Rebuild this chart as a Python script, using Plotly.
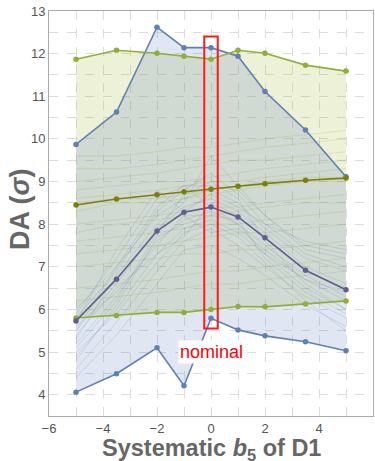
import plotly.graph_objects as go

x = [-5, -3.5, -2, -1, 0, 1, 2, 3.5, 5]

blue_max = [9.87, 10.63, 12.62, 12.14, 12.14, 11.94, 11.11, 10.21, 9.11]
blue_mean = [5.73, 6.71, 7.84, 8.28, 8.40, 8.17, 7.68, 6.92, 6.46]
blue_min = [4.06, 4.49, 5.10, 4.21, 5.79, 5.52, 5.38, 5.24, 5.03]

green_max = [11.87, 12.08, 12.01, 11.94, 11.87, 12.08, 12.01, 11.73, 11.59]
green_mean = [8.45, 8.59, 8.69, 8.76, 8.82, 8.89, 8.95, 9.03, 9.08]
green_min = [5.80, 5.86, 5.93, 5.93, 6.00, 6.07, 6.06, 6.13, 6.20]

blue_samples = [
    [5.2, 6.3, 7.6, 8.1, 8.3, 8.0, 7.5, 6.8, 6.3],
    [5.5, 6.6, 7.9, 8.4, 8.6, 8.3, 7.8, 7.0, 6.6],
    [6.0, 7.0, 8.2, 8.6, 8.8, 8.5, 7.9, 7.2, 6.9],
    [4.9, 6.0, 7.3, 7.9, 8.1, 7.8, 7.3, 6.5, 6.0],
    [5.8, 6.9, 8.3, 8.8, 9.2, 8.7, 8.0, 7.3, 7.0],
    [4.6, 5.7, 6.9, 7.6, 7.9, 7.5, 7.0, 6.3, 5.8],
    [5.3, 6.8, 8.0, 8.5, 9.6, 8.9, 8.2, 7.4, 7.2],
    [5.6, 6.4, 7.5, 8.2, 7.8, 7.9, 7.4, 6.7, 6.2],
    [4.4, 5.4, 6.6, 7.4, 7.5, 7.2, 6.8, 6.1, 5.6],
    [5.9, 7.2, 8.6, 8.9, 8.9, 8.8, 8.2, 7.5, 7.3],
    [5.1, 6.2, 7.8, 8.7, 9.0, 8.6, 7.6, 6.6, 6.0],
    [5.4, 6.5, 7.3, 7.7, 8.5, 8.2, 7.7, 6.9, 6.5],
    [4.8, 6.1, 7.7, 8.0, 8.2, 8.1, 7.2, 6.4, 5.9],
    [5.7, 7.4, 8.8, 8.3, 8.7, 8.4, 8.0, 7.6, 7.4],
    [5.0, 5.9, 7.1, 7.8, 8.0, 7.7, 7.1, 6.2, 5.5],
    [5.5, 7.0, 8.4, 8.9, 8.4, 8.0, 7.3, 6.7, 6.4],
]

green_samples = [
    [7.0, 7.1, 7.2, 7.3, 7.3, 7.4, 7.4, 7.5, 7.6],
    [7.6, 7.7, 7.8, 7.9, 8.0, 8.0, 8.1, 8.2, 8.3],
    [8.0, 8.1, 8.2, 8.3, 8.4, 8.4, 8.5, 8.6, 8.7],
    [8.6, 8.7, 8.8, 8.9, 9.0, 9.0, 9.1, 9.2, 9.3],
    [9.0, 9.1, 9.2, 9.3, 9.4, 9.5, 9.5, 9.6, 9.7],
    [6.5, 6.6, 6.7, 6.8, 6.9, 6.9, 7.0, 7.1, 7.2],
    [9.3, 9.3, 9.4, 9.5, 9.6, 9.7, 9.8, 9.9, 10.0],
    [8.3, 8.5, 8.5, 8.6, 8.7, 8.8, 8.9, 9.0, 9.0],
    [7.8, 8.0, 8.1, 8.2, 8.2, 8.3, 8.4, 8.5, 8.5],
    [8.8, 8.9, 9.0, 9.0, 9.1, 9.2, 9.3, 9.4, 9.5],
    [7.3, 7.4, 7.5, 7.6, 7.7, 7.8, 7.8, 7.9, 8.0],
    [9.6, 9.6, 9.7, 9.8, 9.8, 9.9, 10.0, 10.1, 10.2],
    [8.5, 8.6, 8.6, 8.7, 8.8, 8.9, 9.0, 9.1, 9.1],
    [6.2, 6.3, 6.4, 6.5, 6.6, 6.6, 6.7, 6.8, 6.9],
]

nominal_x = 0
nominal_box = [-0.25, 0.25, 5.55, 12.4]

x_title = "<b>Systematic <i>b</i><sub>5</sub> of D1</b>"
y_title = "<b>DA (<i>σ</i>)</b>"

BLUE = "#5E81B5"
BLUE_MEAN = "#625E95"
GREEN = "#8FB032"
OLIVE = "#7F7F00"

fig = go.Figure()

# green band
fig.add_trace(go.Scatter(x=x + x[::-1], y=green_max + green_min[::-1], fill="toself",
                         fillcolor="rgba(150,180,40,0.18)", line=dict(width=0),
                         mode="lines", hoverinfo="skip"))
# blue band
fig.add_trace(go.Scatter(x=x + x[::-1], y=blue_max + blue_min[::-1], fill="toself",
                         fillcolor="rgba(100,130,190,0.2)", line=dict(width=0),
                         mode="lines", hoverinfo="skip"))

for s in green_samples:
    fig.add_trace(go.Scatter(x=x, y=s, mode="lines",
                             line=dict(color="rgba(140,170,60,0.35)", width=0.6),
                             hoverinfo="skip"))
for s in blue_samples:
    fig.add_trace(go.Scatter(x=x, y=s, mode="lines",
                             line=dict(color="rgba(90,110,160,0.3)", width=0.6),
                             hoverinfo="skip"))

def main(y, color):
    fig.add_trace(go.Scatter(x=x, y=y, mode="lines+markers",
                             line=dict(color=color, width=1.6),
                             marker=dict(color=color, size=5.5)))

main(blue_max, BLUE)
main(blue_min, BLUE)
main(green_max, GREEN)
main(green_min, GREEN)
main(green_mean, OLIVE)
main(blue_mean, BLUE_MEAN)

fig.add_shape(type="rect", x0=nominal_box[0], x1=nominal_box[1], y0=nominal_box[2], y1=nominal_box[3],
              line=dict(color="#FF1A1A", width=2), layer="above")
fig.add_annotation(x=nominal_x, y=5.0, text="nominal", showarrow=False,
                   font=dict(color="#FF0000", size=18, family="Liberation Sans"),
                   bgcolor="white", borderpad=1)

# axis titles as annotations for exact placement
fig.add_annotation(xref="paper", yref="paper", x=0.5, y=-0.082, yanchor="middle",
                   text=x_title, showarrow=False,
                   font=dict(size=23.5, color="#666666", family="Liberation Sans"))
fig.add_annotation(xref="paper", yref="paper", x=-0.089, y=0.509, xanchor="center",
                   text=y_title, showarrow=False, textangle=-90,
                   font=dict(size=27, color="#666666", family="Liberation Sans"))

grid = dict(showgrid=True, gridcolor="#DDDDDD", griddash="dash", gridwidth=1)
fig.update_layout(
    width=375, height=461,
    margin=dict(l=49, r=2, t=11, b=45),
    paper_bgcolor="white", plot_bgcolor="white",
    showlegend=False,
    font=dict(family="Liberation Sans", color="#555555", size=13),
    xaxis=dict(range=[-6, 6], tickvals=[-6, -4, -2, 0, 2, 4, 6],
               ticktext=["\u22126", "\u22124", "\u22122", "0", "2", "4", "6"],
               showline=True, linecolor="#AAAAAA", linewidth=1, mirror=True,
               ticks="", zeroline=False, automargin=False,
               minor=dict(dtick=1, tick0=0, showgrid=True, gridcolor="#DDDDDD", griddash="dash"),
               **grid),
    yaxis=dict(range=[3.5, 13], dtick=1, tick0=0,
               showline=True, linecolor="#AAAAAA", linewidth=1, mirror=True,
               ticks="", zeroline=False, automargin=False,
               minor=dict(dtick=0.5, tick0=0, showgrid=True, gridcolor="#DDDDDD", griddash="dash"),
               **grid),
)

fig.write_html("out.html")
